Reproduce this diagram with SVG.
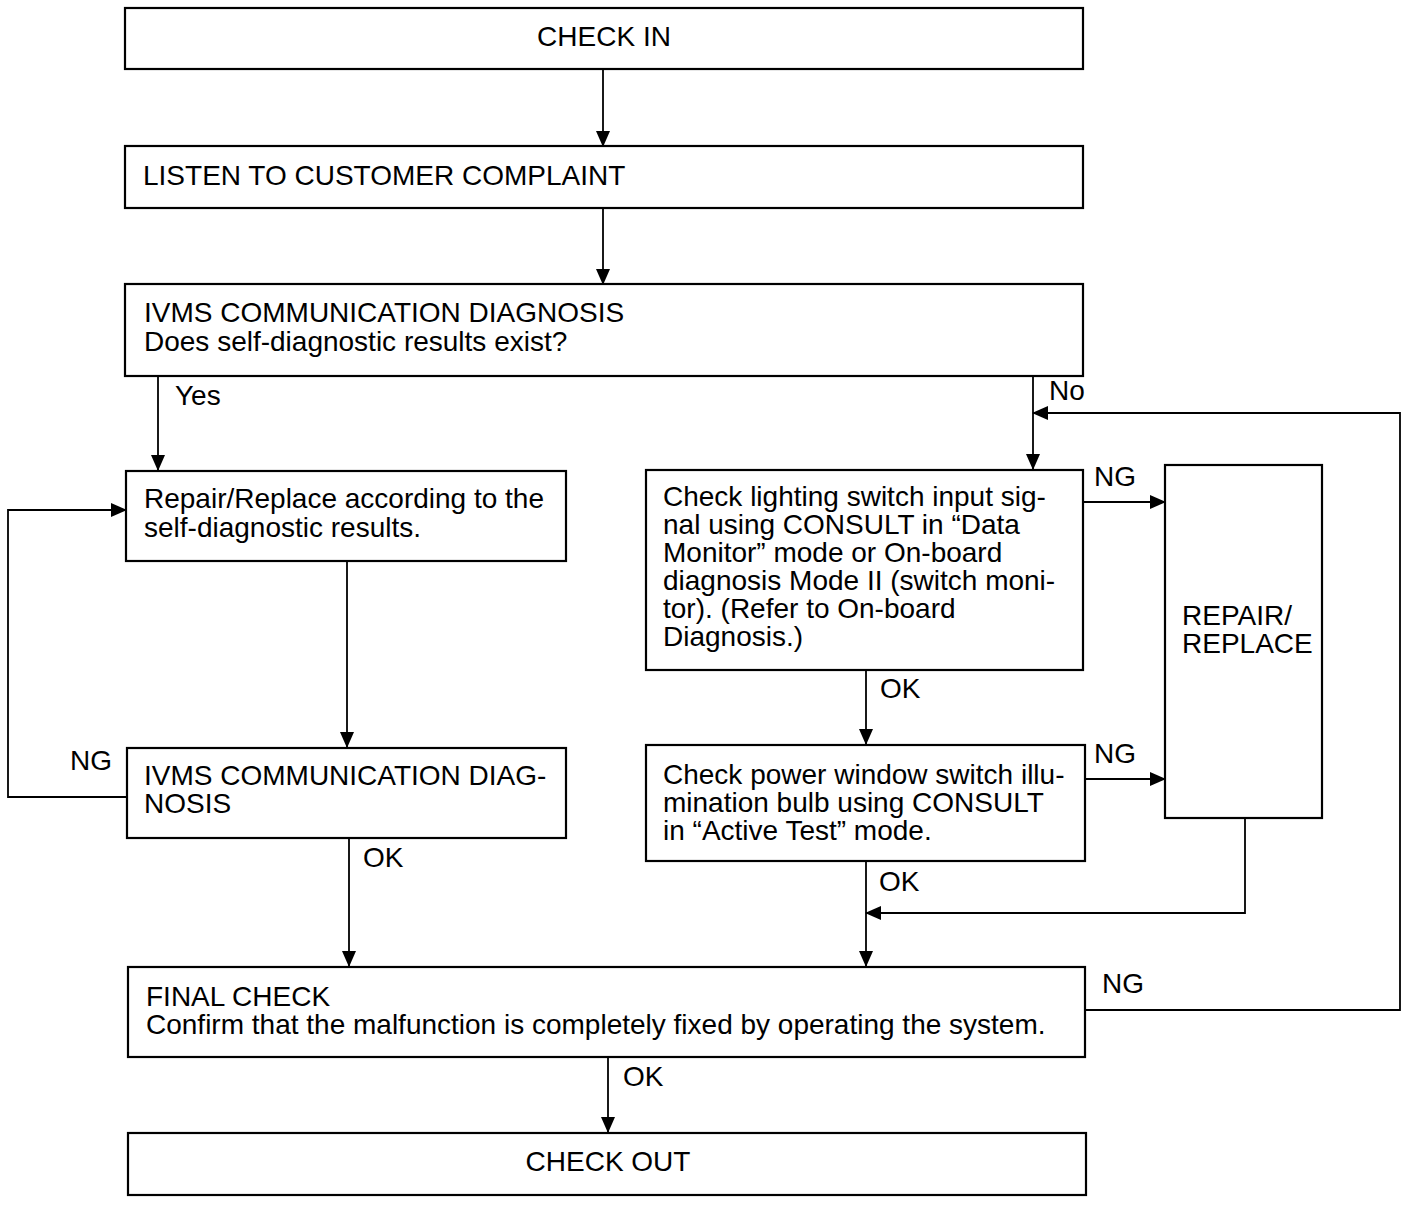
<svg xmlns="http://www.w3.org/2000/svg" width="1424" height="1206" viewBox="0 0 1424 1206">
<style>
.box{fill:#fff;stroke:#000;stroke-width:2.2}
.t{font-family:"Liberation Sans",Arial,sans-serif;font-size:28px;fill:#000}
.c{text-anchor:middle}
.ln{fill:none;stroke:#000;stroke-width:1.8}
</style>
<defs>
<marker id="ah" markerUnits="userSpaceOnUse" markerWidth="16" markerHeight="14" refX="15" refY="7" orient="auto">
<path d="M0,0 L16,7 L0,14 Z" fill="#000"/>
</marker>
</defs>
<rect width="1424" height="1206" fill="#fff"/>
<g id="connectors">
<line class="ln" x1="603" y1="69" x2="603" y2="146" marker-end="url(#ah)"/>
<line class="ln" x1="603" y1="208" x2="603" y2="284" marker-end="url(#ah)"/>
<line class="ln" x1="158" y1="376" x2="158" y2="470" marker-end="url(#ah)"/>
<line class="ln" x1="1033" y1="376" x2="1033" y2="469" marker-end="url(#ah)"/>
<polyline class="ln" points="1085,1010 1400,1010 1400,413 1033,413" marker-end="url(#ah)"/>
<line class="ln" x1="347" y1="561" x2="347" y2="747" marker-end="url(#ah)"/>
<polyline class="ln" points="127,797 8,797 8,510 126,510" marker-end="url(#ah)"/>
<line class="ln" x1="349" y1="838" x2="349" y2="966" marker-end="url(#ah)"/>
<line class="ln" x1="1083" y1="502" x2="1165" y2="502" marker-end="url(#ah)"/>
<line class="ln" x1="866" y1="670" x2="866" y2="744" marker-end="url(#ah)"/>
<line class="ln" x1="1085" y1="779" x2="1165" y2="779" marker-end="url(#ah)"/>
<polyline class="ln" points="1245,818 1245,913 866,913" marker-end="url(#ah)"/>
<line class="ln" x1="866" y1="861" x2="866" y2="966" marker-end="url(#ah)"/>
<line class="ln" x1="608" y1="1057" x2="608" y2="1132" marker-end="url(#ah)"/>
<text class="t" x="175" y="405">Yes</text>
<text class="t" x="1049" y="400">No</text>
<text class="t" x="1094" y="486">NG</text>
<text class="t" x="1094" y="763">NG</text>
<text class="t" x="70" y="770">NG</text>
<text class="t" x="363" y="867">OK</text>
<text class="t" x="880" y="698">OK</text>
<text class="t" x="879" y="891">OK</text>
<text class="t" x="1102" y="993">NG</text>
<text class="t" x="623" y="1086">OK</text>
</g>
<g id="check-in">
<rect class="box" x="125" y="8" width="958" height="61"/>
<text class="t c" x="604" y="46">CHECK IN</text>
</g>
<g id="listen">
<rect class="box" x="125" y="146" width="958" height="62"/>
<text class="t" x="143" y="185">LISTEN TO CUSTOMER COMPLAINT</text>
</g>
<g id="ivms-diagnosis">
<rect class="box" x="125" y="284" width="958" height="92"/>
<text class="t" x="144" y="322">IVMS COMMUNICATION DIAGNOSIS</text>
<text class="t" x="144" y="351">Does self-diagnostic results exist?</text>
</g>
<g id="repair-replace-self">
<rect class="box" x="126" y="471" width="440" height="90"/>
<text class="t" x="144" y="508">Repair/Replace according to the</text>
<text class="t" x="144" y="537">self-diagnostic results.</text>
</g>
<g id="ivms-diag-2">
<rect class="box" x="127" y="748" width="439" height="90"/>
<text class="t" x="144" y="785">IVMS COMMUNICATION DIAG-</text>
<text class="t" x="144" y="813">NOSIS</text>
</g>
<g id="check-lighting">
<rect class="box" x="646" y="470" width="437" height="200"/>
<text class="t" x="663" y="506">Check lighting switch input sig-</text>
<text class="t" x="663" y="534">nal using CONSULT in “Data</text>
<text class="t" x="663" y="562">Monitor” mode or On-board</text>
<text class="t" x="663" y="590">diagnosis Mode II (switch moni-</text>
<text class="t" x="663" y="618">tor). (Refer to On-board</text>
<text class="t" x="663" y="646">Diagnosis.)</text>
</g>
<g id="check-power-window">
<rect class="box" x="646" y="745" width="439" height="116"/>
<text class="t" x="663" y="784">Check power window switch illu-</text>
<text class="t" x="663" y="812">mination bulb using CONSULT</text>
<text class="t" x="663" y="840">in “Active Test” mode.</text>
</g>
<g id="repair-replace">
<rect class="box" x="1165" y="465" width="157" height="353"/>
<text class="t" x="1182" y="625">REPAIR/</text>
<text class="t" x="1182" y="653">REPLACE</text>
</g>
<g id="final-check">
<rect class="box" x="128" y="967" width="957" height="90"/>
<text class="t" x="146" y="1006">FINAL CHECK</text>
<text class="t" x="146" y="1034">Confirm that the malfunction is completely fixed by operating the system.</text>
</g>
<g id="check-out">
<rect class="box" x="128" y="1133" width="958" height="62"/>
<text class="t c" x="608" y="1171">CHECK OUT</text>
</g>
</svg>
